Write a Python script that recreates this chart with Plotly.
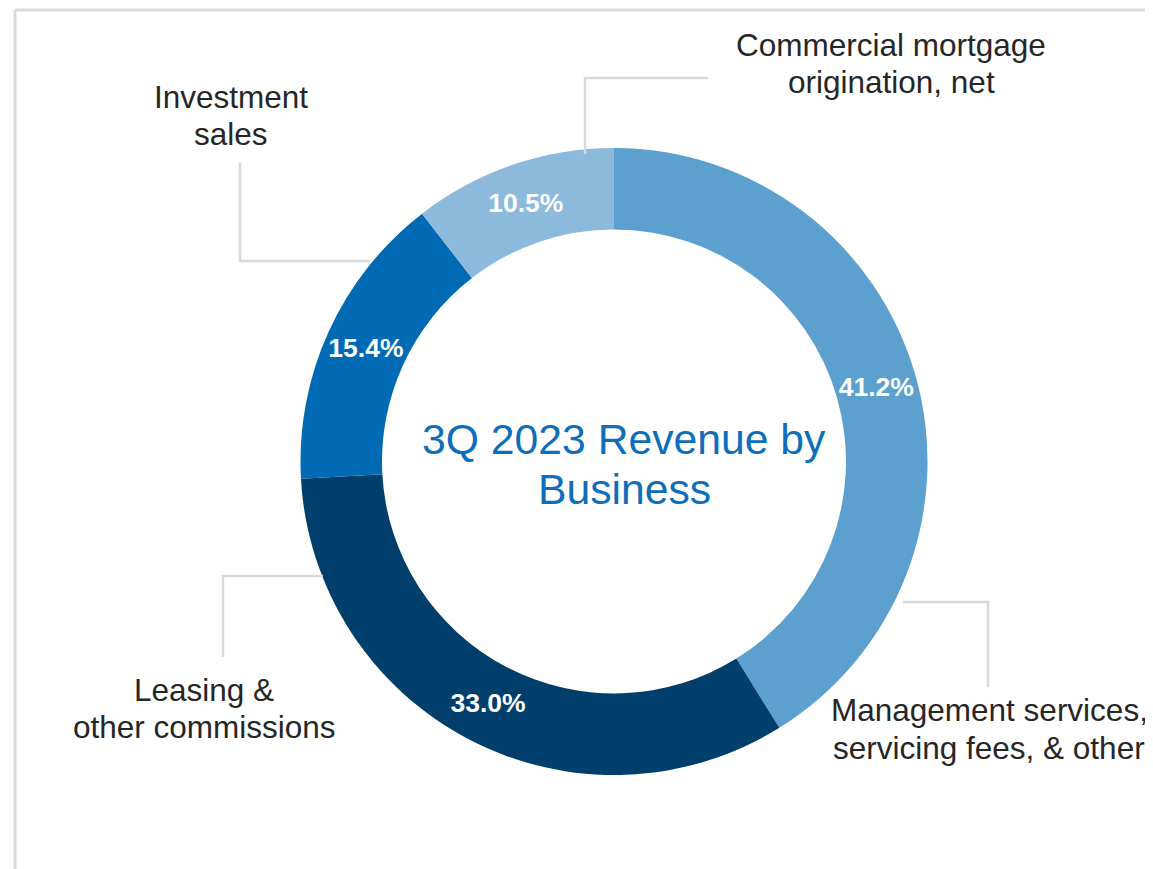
import plotly.graph_objects as go

categories = ["Management services,<br>servicing fees, & other",
              "Leasing &<br>other commissions",
              "Investment<br>sales",
              "Commercial mortgage<br>origination, net"]
values = [41.2, 33.0, 15.4, 10.5]
colors = ["#5BA0CF", "#003F6B", "#006AB4", "#8BBADC"]
center_title = "3Q 2023 Revenue by<br>Business"

W, H = 1153, 869
OFF = 8  # page body margin
FONT = "Liberation Sans, Arial, sans-serif"

def px(x):
    return (x - OFF) / W

def py(y):
    return 1 - (y - OFF) / H

cx, cy, r = 614, 461.5, 313.5

fig = go.Figure(go.Pie(
    labels=categories,
    values=values,
    marker=dict(colors=colors, line=dict(width=0)),
    hole=0.74,
    sort=False,
    direction="clockwise",
    rotation=0,
    textposition="inside",
    insidetextorientation="horizontal",
    texttemplate="<b>%{value:.1f}%</b>",
    textfont=dict(family=FONT, size=26.5, color="white"),
    hoverinfo="label+value",
    showlegend=False,
    domain=dict(x=[px(cx - r), px(cx + r)], y=[py(cy + r), py(cy - r)]),
))

# outside category labels (one annotation per text line)
label_pos = [(989, (710, 748)), (204, (690, 727)), (231, (97, 134)), (891, (45, 82))]
annotations = []
for lab, (x, ys) in zip(categories, label_pos):
    for line, y in zip(lab.split("<br>"), ys):
        annotations.append(dict(text=line, x=px(x), y=py(y), xref="paper", yref="paper",
                                showarrow=False, xanchor="center", yanchor="middle",
                                font=dict(family=FONT, size=31.5, color="#262626")))
for line, y in zip(center_title.split("<br>"), (439, 489)):
    annotations.append(dict(text=line, x=px(624), y=py(y), xref="paper", yref="paper",
                            showarrow=False, xanchor="center", yanchor="middle",
                            font=dict(family=FONT, size=42.7, color="#0E6EBA")))

line_style = dict(color="#D9D9D9", width=2.5)
leaders = [
    [(903, 602), (988, 602), (988, 687)],
    [(323, 576), (223, 576), (223, 657)],
    [(370, 261), (240, 261), (240, 163)],
    [(585, 154), (585, 78), (708, 78)],
]
shapes = []
for pts in leaders:
    path = "M " + " L ".join(f"{px(x)},{py(y)}" for x, y in pts)
    shapes.append(dict(type="path", path=path, xref="paper", yref="paper", line=line_style))
# frame lines (left and top)
shapes.append(dict(type="line", x0=px(15), x1=px(1170), y0=py(10), y1=py(10), xref="paper", yref="paper",
                   line=dict(color="#D9D9D9", width=3)))
shapes.append(dict(type="line", x0=px(15), x1=px(15), y0=py(10), y1=py(880), xref="paper", yref="paper",
                   line=dict(color="#D9D9D9", width=3)))

fig.update_layout(
    width=W, height=H,
    margin=dict(l=0, r=0, t=0, b=0),
    paper_bgcolor="white", plot_bgcolor="white",
    annotations=annotations,
    shapes=shapes,
)

fig.write_html("out.html")
